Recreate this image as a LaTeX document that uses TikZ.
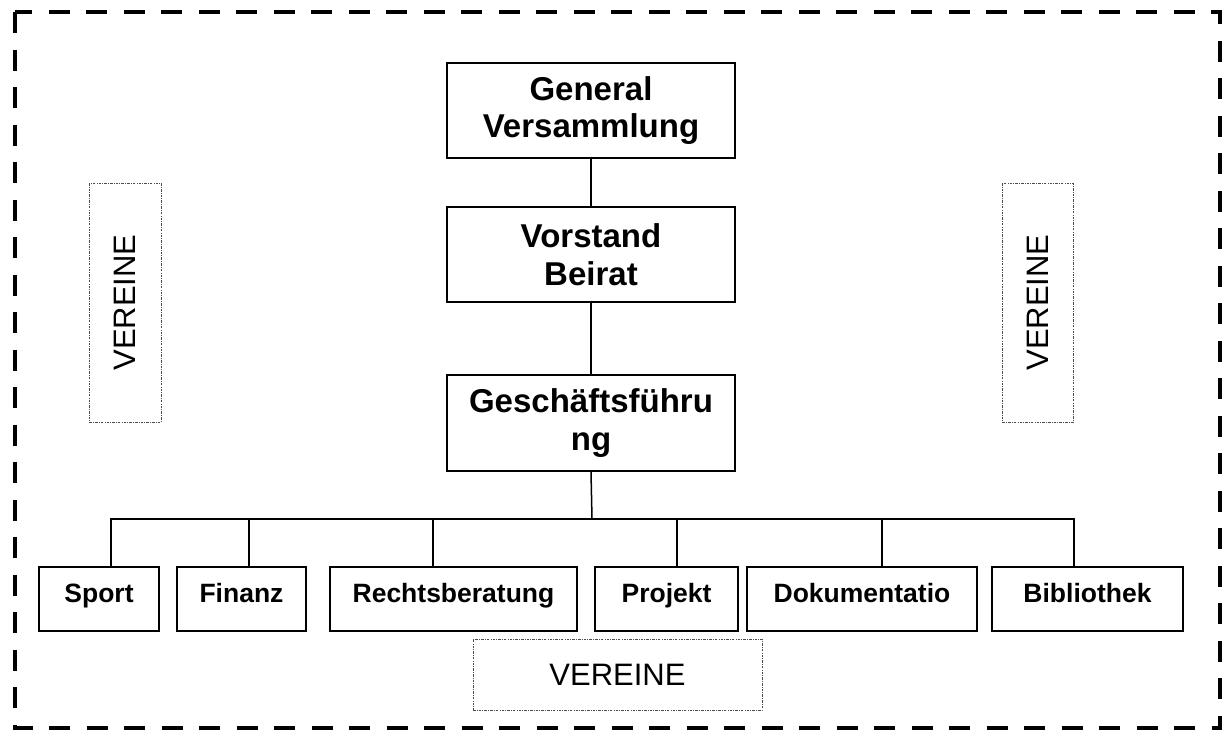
\documentclass[tikz,border=0pt]{standalone}
\usepackage{fontspec}
\setmainfont{Liberation Sans}
\begin{document}
\begin{tikzpicture}[x=1pt,y=-1pt,
  topbox/.style={draw, line width=2pt, minimum width=288pt, inner sep=0pt, align=center,
    font=\fontsize{33}{37.5}\selectfont\bfseries},
  unitbox/.style={draw, line width=2pt, minimum height=64pt, inner sep=0pt,
    text height=20pt, text depth=14pt, font=\fontsize{26.5}{30}\selectfont\bfseries},
  dotbox/.style={draw=black!70, line width=0.8pt, dash pattern=on 2.5pt off 1.2pt on 0.8pt off 1.2pt,
    inner sep=0pt, font=\fontsize{31}{36}\selectfont},
  conn/.style={line width=1.5pt}]
\useasboundingbox (0,0) rectangle (1229,736);
% outer frame
\draw[line width=4pt, dash pattern=on 21pt off 16.5pt] (15,12) rectangle (1220,728);
% top boxes
\node[topbox, minimum height=95pt] (gv) at (591,110.5) {General\\Versammlung};
\node[topbox, minimum height=95pt] (vb) at (591,254.5) {Vorstand\\Beirat};
\node[topbox, minimum height=96pt] (gf) at (591,423) {Geschäftsführu\\ng};
% units
\node[unitbox, minimum width=120pt] (sport) at (99,599) {Sport};
\node[unitbox, minimum width=129pt] (finanz) at (241.5,599) {Finanz};
\node[unitbox, minimum width=247pt] (recht) at (453.5,599) {Rechtsberatung};
\node[unitbox, minimum width=143pt] (projekt) at (666.5,599) {Projekt};
\node[unitbox, minimum width=230pt] (doku) at (862,599) {Dokumentatio};
\node[unitbox, minimum width=191pt] (biblio) at (1087.5,599) {Bibliothek};
% VEREINE boxes
\node[dotbox, rotate=90, minimum width=239pt, minimum height=72pt] (vl) at (125,302.5) {VEREINE};
\node[dotbox, rotate=90, minimum width=239pt, minimum height=71pt] (vr) at (1037.5,302.5) {VEREINE};
\node[dotbox, minimum width=289pt, minimum height=71pt] (vb2) at (617.5,674.5) {VEREINE};
% connectors
\coordinate (bus) at (592,519);
\coordinate (tSport) at (111,567);
\coordinate (tFinanz) at (249,567);
\coordinate (tRecht) at (433,567);
\coordinate (tProjekt) at (677,567);
\coordinate (tDoku) at (882,567);
\coordinate (tBiblio) at (1074,567);
\draw[conn] (gv.south) -- (vb.north);
\draw[conn] (vb.south) -- (gf.north);
\draw[conn] (gf.south) -- (bus);
\draw[conn] (bus) -| (tSport);
\draw[conn] (bus) -| (tBiblio);
\draw[conn] (tFinanz |- bus) -- (tFinanz);
\draw[conn] (tRecht |- bus) -- (tRecht);
\draw[conn] (tProjekt |- bus) -- (tProjekt);
\draw[conn] (tDoku |- bus) -- (tDoku);
\end{tikzpicture}
\end{document}
